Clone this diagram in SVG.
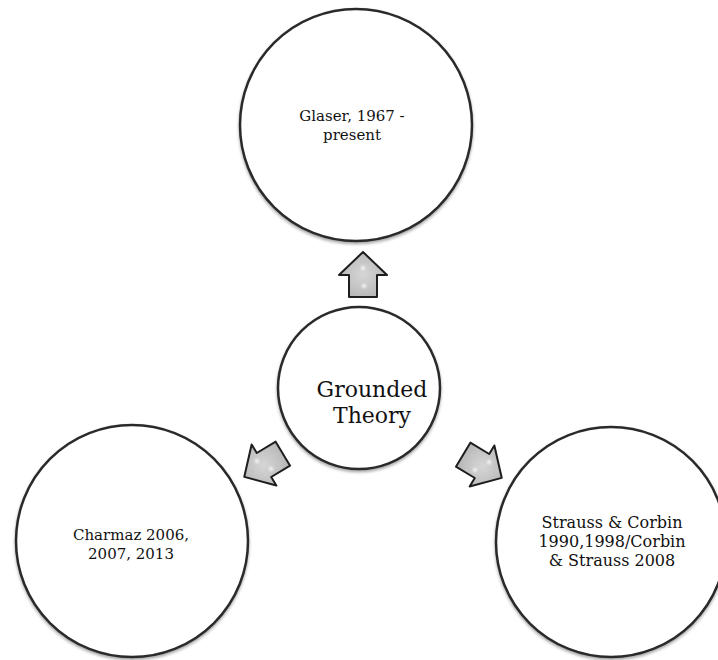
<svg xmlns="http://www.w3.org/2000/svg" width="718" height="660" viewBox="0 0 718 660">
  <defs>
    <filter id="shadow" x="-10%" y="-10%" width="120%" height="125%">
      <feDropShadow dx="0" dy="2" stdDeviation="1.5" flood-color="#000" flood-opacity="0.35"/>
    </filter>
    <filter id="soft" x="-100%" y="-100%" width="300%" height="300%">
      <feGaussianBlur stdDeviation="1"/>
    </filter>
    <radialGradient id="arrowFill" cx="50%" cy="50%" r="60%">
      <stop offset="0" stop-color="#d6d6d6"/>
      <stop offset="0.6" stop-color="#c2c2c2"/>
      <stop offset="1" stop-color="#b2b2b2"/>
    </radialGradient>
    <polygon id="blockArrow" points="-22,-14 0,-14 0,-24 23,0 0,24 0,14 -22,14"/>
  </defs>
  <style>
    .node circle { fill: #ffffff; stroke: #2a2a2a; stroke-width: 2.5; filter: url(#shadow); }
    .node text { font-family: "DejaVu Serif", "Liberation Serif", serif; fill: #111; text-anchor: middle; }
    .small { font-size: 15px; }
    .mid { font-size: 16px; }
    .big { font-size: 22px; }
    .arrow use { fill: url(#arrowFill); stroke: #1e1e1e; stroke-width: 2; stroke-linejoin: round; }
    .hl { fill: #ffffff; opacity: 0.75; filter: url(#soft); }
  </style>

  <g id="node-glaser" class="node">
    <circle cx="356" cy="125" r="116"/>
    <text class="small" x="352" y="121">Glaser, 1967 -</text>
    <text class="small" x="352" y="140">present</text>
  </g>

  <g id="node-grounded" class="node">
    <circle cx="359" cy="388" r="81"/>
    <text class="big" x="372" y="397">Grounded</text>
    <text class="big" x="372" y="423">Theory</text>
  </g>

  <g id="node-charmaz" class="node">
    <circle cx="132" cy="541" r="116"/>
    <text class="small" x="131" y="540">Charmaz 2006,</text>
    <text class="small" x="131" y="559">2007, 2013</text>
  </g>

  <g id="node-strauss" class="node">
    <circle cx="611" cy="542" r="115"/>
    <text class="mid" x="612" y="528">Strauss &amp; Corbin</text>
    <text class="mid" x="612" y="547">1990,1998/Corbin</text>
    <text class="mid" x="612" y="566">&amp; Strauss 2008</text>
  </g>

  <g id="connectors">
    <g class="arrow" transform="translate(363,275) rotate(-90)">
      <use href="#blockArrow"/>
      <circle class="hl" cx="7" cy="0" r="2.2"/>
      <circle class="hl" cx="-11" cy="1" r="2.2"/>
    </g>
    <g class="arrow" transform="translate(482,466) rotate(31)">
      <use href="#blockArrow"/>
      <circle class="hl" cx="4" cy="-7" r="2.2"/>
      <circle class="hl" cx="-4" cy="7" r="2.2"/>
    </g>
    <g class="arrow" transform="translate(264,465) rotate(149)">
      <use href="#blockArrow"/>
      <circle class="hl" cx="4" cy="7" r="2.2"/>
      <circle class="hl" cx="-4" cy="-7" r="2.2"/>
    </g>
  </g>
</svg>
